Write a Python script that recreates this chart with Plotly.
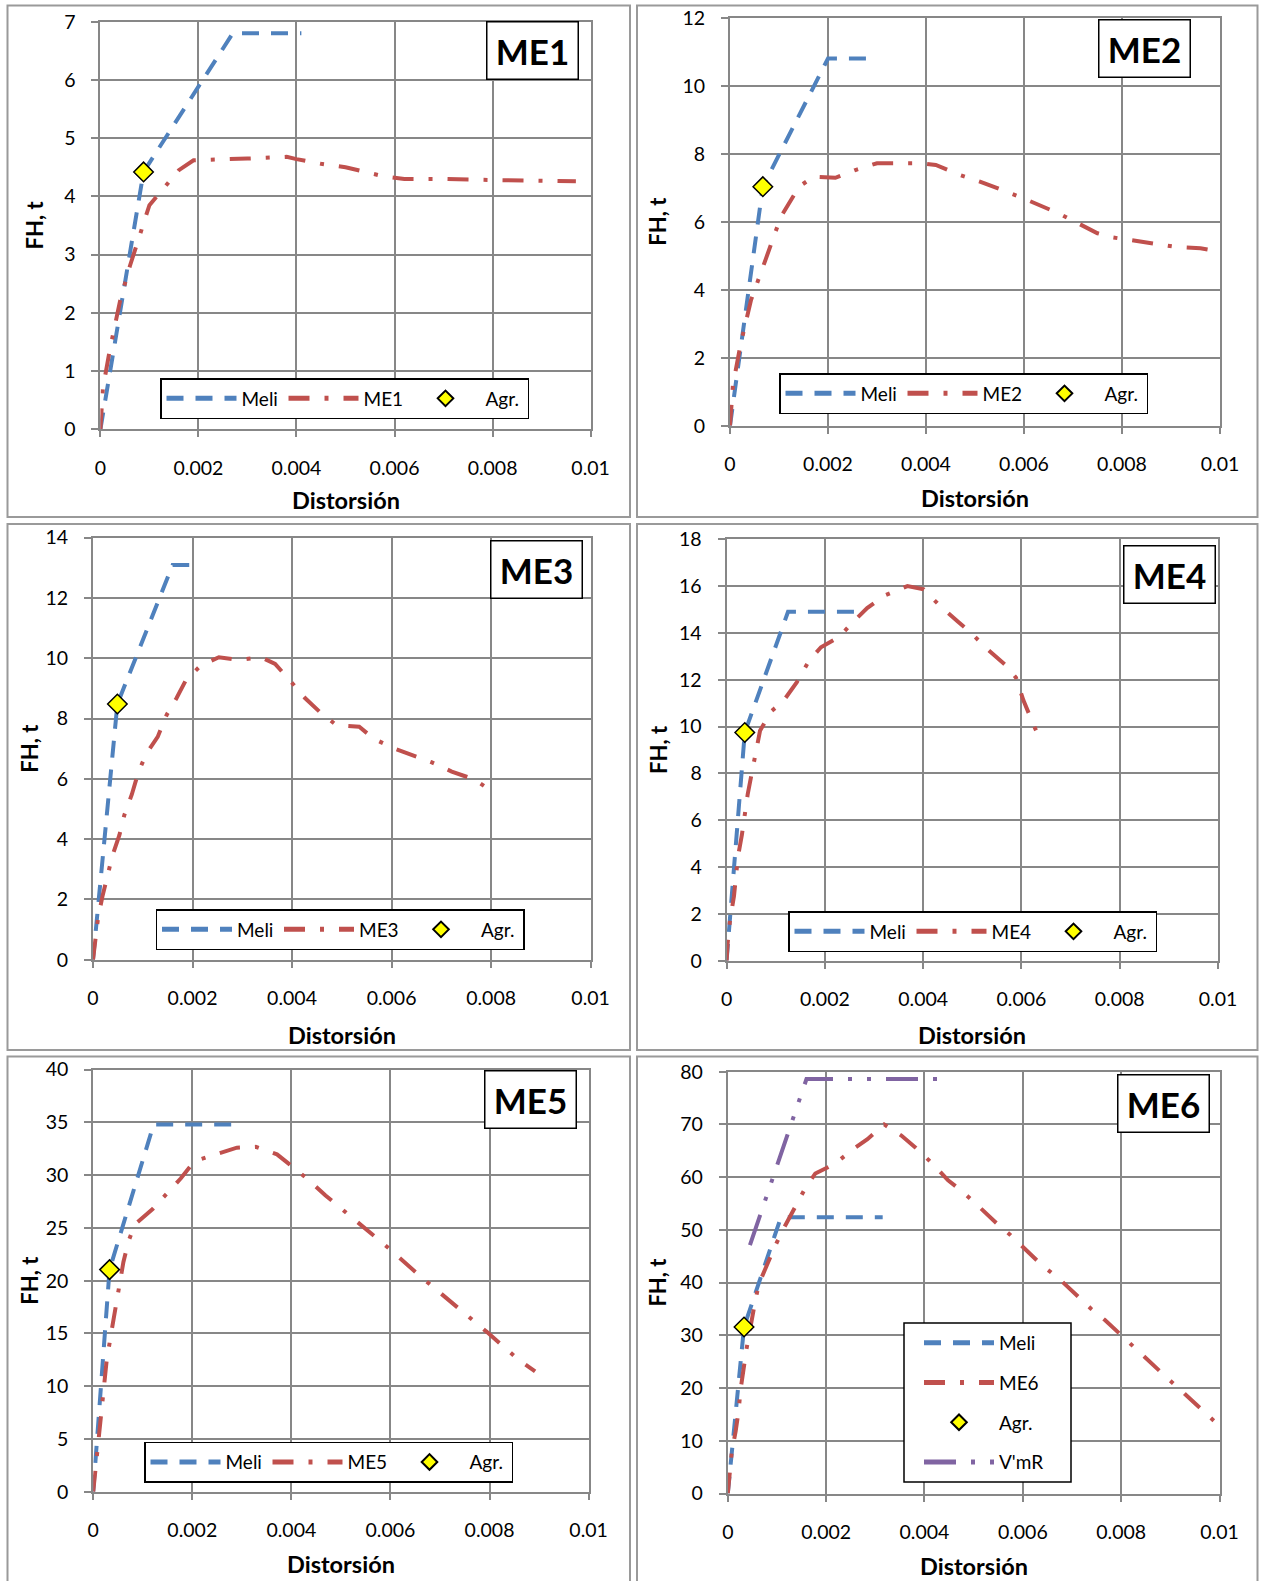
import plotly.graph_objects as go

W, H = 1261, 1581

# ---------------- data ----------------
x_ticks = [0, 0.002, 0.004, 0.006, 0.008, 0.01]
x_ticktext = ["0", "0.002", "0.004", "0.006", "0.008", "0.01"]

me1_meli_x = [0, 0.00088, 0.0027, 0.0041]
me1_meli_y = [0, 4.42, 6.8, 6.8]
me1_x = [0, 0.00005, 0.0002, 0.0004, 0.0006, 0.0008, 0.001, 0.0013, 0.0016, 0.0019, 0.0025, 0.003,
         0.0038, 0.004, 0.0045, 0.005, 0.0055, 0.0058, 0.0062, 0.007, 0.008, 0.009, 0.0097]
me1_y = [0, 0.7, 1.4, 2.2, 2.8, 3.35, 3.85, 4.15, 4.45, 4.62, 4.63, 4.65,
         4.68, 4.64, 4.56, 4.5, 4.4, 4.34, 4.3, 4.3, 4.28, 4.27, 4.26]
me1_agr = ([0.00088], [4.42])

me2_meli_x = [0, 0.00067, 0.002, 0.0028]
me2_meli_y = [0, 7.03, 10.8, 10.8]
me2_x = [0, 0.00006, 0.00022, 0.00043, 0.00071, 0.00104, 0.00141, 0.0017, 0.00215, 0.00256, 0.003,
         0.0034, 0.0039, 0.0042, 0.0047, 0.0051, 0.0059, 0.0067, 0.0071, 0.0075, 0.0078, 0.0083,
         0.0091, 0.0096, 0.0100]
me2_y = [0, 1.2, 2.42, 3.7, 4.82, 6.15, 7.03, 7.32, 7.29, 7.52, 7.72,
         7.72, 7.72, 7.67, 7.37, 7.18, 6.74, 6.25, 5.95, 5.66, 5.54, 5.44,
         5.26, 5.22, 5.12]
me2_agr = ([0.00067], [7.03])

me3_meli_x = [0, 0.00049, 0.0016, 0.00202]
me3_meli_y = [0, 8.48, 13.09, 13.09]
me3_x = [0, 0.00005, 0.0001, 0.00019, 0.00029, 0.00039, 0.00053, 0.00063, 0.00078, 0.00091, 0.00107,
         0.0013, 0.00148, 0.00168, 0.00186, 0.00216, 0.00253, 0.00292, 0.00338, 0.00366, 0.00398,
         0.00426, 0.00455, 0.00489, 0.00535, 0.00564, 0.00602, 0.00644, 0.0068, 0.00721, 0.00766,
         0.00786]
me3_y = [0, 0.64, 1.37, 2.1, 2.72, 3.45, 4.13, 4.8, 5.48, 6.21, 6.83,
         7.39, 8.12, 8.68, 9.25, 9.75, 10.03, 9.94, 10.03, 9.81, 9.22,
         8.68, 8.23, 7.78, 7.73, 7.33, 7.03, 6.77, 6.55, 6.24, 5.98,
         5.76]
me3_agr = ([0.00049], [8.48])

me4_meli_x = [0, 0.00037, 0.00125, 0.00262]
me4_meli_y = [0, 9.75, 14.9, 14.9]
me4_x = [0, 0.00002, 0.00007, 0.00015, 0.00023, 0.00031, 0.00043, 0.00052, 0.0006, 0.00068, 0.0009,
         0.00115, 0.00143, 0.00168, 0.00192, 0.00229, 0.00258, 0.00286, 0.00323, 0.00368, 0.00401,
         0.00434, 0.00471, 0.00499, 0.0053, 0.00569, 0.00589, 0.00604, 0.00622, 0.00637]
me4_y = [0, 0.72, 1.74, 2.75, 4.42, 5.36, 7.12, 8.04, 8.83, 9.82, 10.64,
         11.08, 11.9, 12.82, 13.39, 13.83, 14.48, 15.06, 15.61, 16.0, 15.86,
         15.16, 14.48, 13.97, 13.32, 12.6, 12.09, 11.12, 10.21, 9.48]
me4_agr = ([0.00037], [9.75])

me5_meli_x = [0, 0.00033, 0.00122, 0.00294]
me5_meli_y = [0, 21.05, 34.8, 34.8]
me5_x = [0, 0.00004, 0.00015, 0.00027, 0.00039, 0.00047, 0.00054, 0.00061, 0.00071, 0.00084, 0.0012,
         0.00152, 0.00177, 0.00204, 0.0025, 0.0029, 0.00328, 0.00371, 0.00397, 0.00435, 0.00469,
         0.00532, 0.00597, 0.00663, 0.00728, 0.00795, 0.00858, 0.00892]
me5_y = [0, 1.85, 6.7, 12.37, 15.77, 18.04, 19.98, 21.77, 23.71, 25.33, 26.79,
         28.4, 29.7, 31.32, 32.03, 32.6, 32.68, 31.97, 31.0, 29.54, 28.08,
         25.65, 23.06, 20.31, 17.81, 15.13, 12.53, 11.4]
me5_agr = ([0.00033], [21.05])

me6_meli_x = [0, 0.00033, 0.00108, 0.00315]
me6_meli_y = [0, 31.57, 52.4, 52.4]
me6_x = [0, 0.00004, 0.00008, 0.00016, 0.00022, 0.00026, 0.00033, 0.00038, 0.00055, 0.00063, 0.00079,
         0.00097, 0.00116, 0.00135, 0.00157, 0.00178, 0.00217, 0.00255, 0.00284, 0.00318, 0.00353,
         0.00382, 0.00417, 0.00448, 0.00478, 0.00511, 0.00546, 0.00574, 0.00607, 0.0064, 0.00673,
         0.00703, 0.00738, 0.00767, 0.008, 0.00834, 0.00863, 0.00896, 0.00929, 0.00959, 0.00992]
me6_y = [0, 3.4, 7.8, 11.8, 15.7, 19.7, 24.1, 27.4, 36.1, 39.7, 43.2,
         47.1, 50.7, 54.1, 57.8, 60.7, 62.5, 65.3, 67.2, 70.0, 67.9,
         65.6, 62.5, 59.4, 57.2, 54.4, 51.3, 49.1, 46.2, 43.2, 40.8,
         38.1, 35.1, 32.9, 30.0, 27.2, 24.4, 21.7, 18.9, 16.3, 13.5]
me6_agr = ([0.00033], [31.57])
vmr_x = [0.00045, 0.0016, 0.0043]
vmr_y = [47.1, 78.6, 78.6]

panel_names = ["ME1", "ME2", "ME3", "ME4", "ME5", "ME6"]
y_max = [7, 12, 14, 18, 40, 80]
y_dtick = [1, 2, 2, 2, 5, 10]

# ---------------- styling / layout ----------------
FONT = "Lato"
BLUE = "#4F81BD"
RED = "#C0504D"
PURPLE = "#8064A2"
GRID = "#878787"

# plot areas in pixels: (left, right, top, bottom)
areas = [
    (100.4, 590.6, 21.7, 429.3),
    (730.0, 1220.0, 17.7, 425.7),
    (93.0, 590.6, 537.6, 959.7),
    (726.6, 1218.0, 539.3, 960.7),
    (93.2, 588.6, 1069.6, 1491.8),
    (727.8, 1219.5, 1071.7, 1493.5),
]
# panel frames (left, right, top, bottom)
frames = [
    (7.5, 630, 5.5, 517), (637, 1257.5, 5.5, 517),
    (7.5, 630, 524, 1050), (637, 1257.5, 524, 1050),
    (7.5, 630, 1056.5, 1590), (637, 1257.5, 1056.5, 1590),
]
# legend top-left
legpos = [(160, 378), (779, 373), (155.5, 909), (788, 911), (144, 1441.6), (919, 1324)]
# ME6 legend frame (left, right, top, bottom)
leg6_box = (904, 1071, 1323, 1482)
# title box right/top
titlepos = [(579, 21), (1191, 19), (583, 540), (1216, 545), (577, 1070), (1210, 1074)]
# axis title centers
xtitle_y = [500, 498, 1035, 1035, 1564, 1566]
ytitle_x = [34, 658, 30, 658, 30, 658]


def px(x):
    return x / W


def py(y):
    return 1 - y / H


fig = go.Figure()

series = [
    (me1_meli_x, me1_meli_y, me1_x, me1_y, me1_agr),
    (me2_meli_x, me2_meli_y, me2_x, me2_y, me2_agr),
    (me3_meli_x, me3_meli_y, me3_x, me3_y, me3_agr),
    (me4_meli_x, me4_meli_y, me4_x, me4_y, me4_agr),
    (me5_meli_x, me5_meli_y, me5_x, me5_y, me5_agr),
    (me6_meli_x, me6_meli_y, me6_x, me6_y, me6_agr),
]

DASH_MELI = "17px,12px"
DASH_ME = "21px,15px,4px,15px"
DASH_VMR = "32px,15px,4px,15px,4px,15px"
LW = 4

for i, (mx, my, ex, ey, agr) in enumerate(series):
    k = i + 1
    xa = "x" if k == 1 else f"x{k}"
    ya = "y" if k == 1 else f"y{k}"
    lg = "legend" if k == 1 else f"legend{k}"
    grp = (lambda s: f"p{k}{s}") if k == 6 else (lambda s: None)
    fig.add_trace(go.Scatter(x=mx, y=my, mode="lines", name="Meli", xaxis=xa, yaxis=ya, legend=lg,
                             legendgroup=grp("a"),
                             line=dict(color=BLUE, width=LW, dash=DASH_MELI)))
    fig.add_trace(go.Scatter(x=ex, y=ey, mode="lines", name=panel_names[i], xaxis=xa, yaxis=ya, legend=lg,
                             legendgroup=grp("b"),
                             line=dict(color=RED, width=LW, dash=DASH_ME)))
    fig.add_trace(go.Scatter(x=agr[0], y=agr[1], mode="markers", name="Agr.", xaxis=xa, yaxis=ya, legend=lg,
                             legendgroup=grp("c"),
                             marker=dict(symbol="diamond", size=15, color="#FFFF00",
                                         line=dict(color="black", width=1.5))))
    if k == 6:
        fig.add_trace(go.Scatter(x=vmr_x, y=vmr_y, mode="lines", name="V'mR", xaxis=xa, yaxis=ya, legend=lg,
                                 legendgroup=grp("d"),
                                 line=dict(color=PURPLE, width=LW, dash=DASH_VMR)))

layout = dict(
    width=W, height=H,
    margin=dict(l=0, r=0, t=0, b=0, pad=0, autoexpand=False),
    paper_bgcolor="white", plot_bgcolor="white",
    font=dict(family=FONT, size=19, color="black"),
    showlegend=True,
)

shapes = []
annotations = []
for i in range(6):
    k = i + 1
    l, r, t, b = areas[i]
    xname = "xaxis" if k == 1 else f"xaxis{k}"
    yname = "yaxis" if k == 1 else f"yaxis{k}"
    anchor_x = "y" if k == 1 else f"y{k}"
    anchor_y = "x" if k == 1 else f"x{k}"
    common = dict(showgrid=True, gridcolor=GRID, gridwidth=2, showline=True, linecolor=GRID,
                  linewidth=2, mirror=True, ticks="outside", tickcolor=GRID, tickwidth=2,
                  zeroline=False, automargin=False,
                  tickfont=dict(family=FONT, size=19.5, color="black"), fixedrange=True)
    layout[xname] = dict(domain=[px(l), px(r)], anchor=anchor_x, range=[0, 0.01],
                         tickmode="array", tickvals=x_ticks, ticktext=x_ticktext,
                         ticklen=6, ticklabelstandoff=14, **common)
    layout[yname] = dict(domain=[py(b), py(t)], anchor=anchor_y, range=[0, y_max[i]],
                         dtick=y_dtick[i], tick0=0, ticklen=7, ticklabelstandoff=12, **common)

    lx, ly = legpos[i]
    lgname = "legend" if k == 1 else f"legend{k}"
    if k < 6:
        layout[lgname] = dict(x=px(lx), y=py(ly), xanchor="left", yanchor="top", orientation="h",
                              bordercolor="black", borderwidth=1.5, bgcolor="white",
                              itemwidth=70, entrywidth=37, entrywidthmode="pixels",
                              itemsizing="constant",
                              font=dict(family=FONT, size=19, color="black"))
    else:
        layout[lgname] = dict(x=px(lx), y=py(ly), xanchor="left", yanchor="top", orientation="v",
                              borderwidth=0, bgcolor="rgba(0,0,0,0)",
                              tracegroupgap=12, itemwidth=70, itemsizing="constant",
                              font=dict(family=FONT, size=19, color="black"))

    fl, fr, ft, fb = frames[i]
    shapes.append(dict(type="rect", xref="paper", yref="paper", x0=px(fl), x1=px(fr),
                       y0=py(fb), y1=py(ft), line=dict(color="#9a9a9a", width=2), layer="below"))

    tx, ty = titlepos[i]
    annotations.append(dict(text=f"<b>{panel_names[i]}</b>", xref="paper", yref="paper",
                            x=px(tx), y=py(ty), xanchor="right", yanchor="top", showarrow=False,
                            font=dict(family=FONT, size=35, color="black"),
                            bgcolor="white", bordercolor="black", borderwidth=1.5,
                            width=86, height=52, borderpad=2))
    annotations.append(dict(text="<b>Distorsión</b>", xref="paper", yref="paper",
                            x=px((l + r) / 2), y=py(xtitle_y[i]), xanchor="center", yanchor="middle",
                            showarrow=False, font=dict(family=FONT, size=23.5, color="black")))
    annotations.append(dict(text="<b>FH, t</b>", xref="paper", yref="paper", textangle=-90,
                            x=px(ytitle_x[i]), y=py((t + b) / 2), xanchor="center", yanchor="middle",
                            showarrow=False, font=dict(family=FONT, size=22, color="black")))

# frame of the vertical ME6 legend
bl, br, bt, bb = leg6_box
shapes.append(dict(type="rect", xref="paper", yref="paper", x0=px(bl), x1=px(br),
                   y0=py(bb), y1=py(bt), fillcolor="white",
                   line=dict(color="black", width=1.5), layer="above"))

layout["shapes"] = shapes
layout["annotations"] = annotations
fig.update_layout(**layout)

fig.write_html("out.html", config={"displayModeBar": False},
               post_script="document.body.style.margin='0';")
